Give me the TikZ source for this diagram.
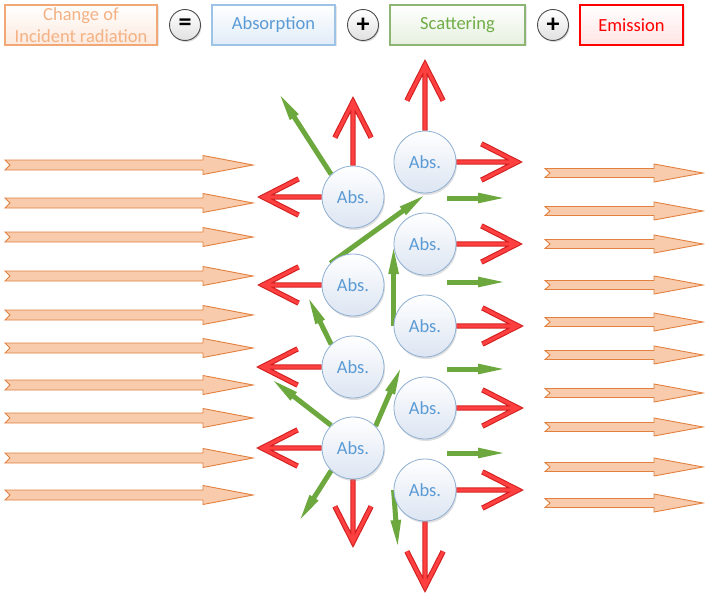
\documentclass[tikz,border=0pt]{standalone}
\usepackage{fontspec}
\setmainfont{Carlito}
\usetikzlibrary{arrows.meta,calc,shadows}
\definecolor{orfill}{HTML}{F8CBAD}
\definecolor{ordraw}{HTML}{E2803F}
\definecolor{absblue}{HTML}{5B9BD5}
\definecolor{circdraw}{HTML}{8EAFD2}
\definecolor{circbot}{HTML}{DCE5F2}
\definecolor{grn}{HTML}{6CA83E}
\definecolor{emred}{HTML}{FF4040}
\definecolor{emdark}{HTML}{D22020}
\definecolor{chgtext}{HTML}{F4B183}
\definecolor{chgdraw}{HTML}{F2A777}
\definecolor{chgfill}{HTML}{FCE9DD}
\definecolor{absdraw}{HTML}{9DC3E6}
\definecolor{absfill}{HTML}{E1ECF8}
\definecolor{scdraw}{HTML}{8DB573}
\definecolor{sctext}{HTML}{70AD47}
\definecolor{scfill}{HTML}{E6F0DF}
\definecolor{emfill}{HTML}{FFE3E3}
\pgfdeclarelayer{bottomlayer}
\pgfdeclarelayer{arrowlayer}
\pgfsetlayers{bottomlayer,arrowlayer,main}
\newcommand\emitarr[2]{%
  \draw[emitout] (#1) -- (#2) ($(#2)!40pt!27:(#1)$) -- (#2) -- ($(#2)!40pt!-27:(#1)$);
  \draw[emitin]  (#1) -- (#2) ($(#2)!40pt!27:(#1)$) -- (#2) -- ($(#2)!40pt!-27:(#1)$);}
\begin{document}
\begin{tikzpicture}[x=1pt,y=-1pt,
  orarrow/.style={draw=ordraw,fill=orfill,line width=0.9pt,line join=miter},
  absc/.style={circle,draw=circdraw,line width=0.8pt,minimum size=62pt,inner sep=0pt,
    top color=white,bottom color=circbot,text=absblue,font=\fontsize{18.5}{20}\selectfont,
    drop shadow={shadow xshift=1pt,shadow yshift=-2pt,opacity=0.25}},
  topbox/.style={rectangle,line width=1.1pt,minimum height=40pt,inner sep=0pt,align=center,
    font=\fontsize{18.5}{22}\selectfont,
    drop shadow={shadow xshift=1.5pt,shadow yshift=-1.5pt,opacity=0.2}},
  opc/.style={circle,draw=black!70,line width=0.9pt,minimum size=31pt,inner sep=0pt,
    top color=white,bottom color=black!12,font=\fontsize{26}{26}\selectfont\bfseries,
    drop shadow={shadow xshift=1pt,shadow yshift=-1.5pt,opacity=0.3}},
  emitout/.style={draw=emdark,line width=5.4pt,line join=miter,miter limit=10},
  emitin/.style={draw=emred,line width=3.2pt,line join=miter,miter limit=10},
  scat/.style={draw=grn,line width=5pt,-{Triangle[length=30pt,width=9pt]}}]
\useasboundingbox (0,0) rectangle (705,594);
% top equation
\node[topbox,draw=chgdraw,top color=white,bottom color=chgfill,text=chgtext,minimum width=152pt] (chg) at (81,25) {Change of\\Incident radiation};
\node[opc] (eq) at (185,25) {=};
\node[topbox,draw=absdraw,top color=white,bottom color=absfill,text=absblue,minimum width=123pt] (absb) at (273.5,25) {Absorption};
\node[opc] (p1) at (363,25) {+};
\node[topbox,draw=scdraw,top color=white,bottom color=scfill,text=sctext,minimum width=135pt] (scb) at (457.5,25) {Scattering};
\node[opc] (p2) at (553,25) {+};
\node[topbox,draw=red,top color=white,bottom color=emfill,text=red,minimum width=103pt] (emb) at (631.5,25) {Emission};
% absorbers
\node[absc] (L1) at (353,197) {Abs.};
\node[absc] (L2) at (353,285) {Abs.};
\node[absc] (L3) at (353,367) {Abs.};
\node[absc] (L4) at (353,448) {Abs.};
\node[absc] (R1) at (425,162) {Abs.};
\node[absc] (R2) at (425,244) {Abs.};
\node[absc] (R3) at (425,326) {Abs.};
\node[absc] (R4) at (425,408) {Abs.};
\node[absc] (R5) at (425,490) {Abs.};
% incident and transmitted arrows
\begin{pgfonlayer}{bottomlayer}
\foreach \y in {165,203,237,276,315,348,385,418,458,495}
  \draw[orarrow] (5,\y-5) -- (203,\y-5) -- (203,\y-9.5) -- (253,\y) -- (203,\y+9.5) -- (203,\y+5) -- (5,\y+5) -- (10,\y) -- cycle;
\foreach \y in {173,211,244,285,322,355,393,427,467,503}
  \draw[orarrow] (545,\y-4.5) -- (654,\y-4.5) -- (654,\y-9) -- (703,\y) -- (654,\y+9) -- (654,\y+4.5) -- (545,\y+4.5) -- (550,\y) -- cycle;
\end{pgfonlayer}
% free ends
\coordinate (eL1u) at (353,102);
\coordinate (eL1l) at (263,197);
\coordinate (eR1u) at (425,65);
\coordinate (eR1r) at (517,162);
\coordinate (eR2r) at (517,244);
\coordinate (eL2l) at (263,285);
\coordinate (eR3r) at (518,326);
\coordinate (eL3l) at (262,367);
\coordinate (eR4r) at (518,408);
\coordinate (eL4l) at (262,448);
\coordinate (eL4d) at (353,542);
\coordinate (eR5r) at (518,490);
\coordinate (eR5d) at (425,587);
\coordinate (gL1) at (278,92);
\coordinate (gL3) at (307,295);
\coordinate (gL4a) at (270,378);
\coordinate (gL4b) at (402,365);
\coordinate (gL4c) at (298,523);
\coordinate (gR5) at (398,550);
\foreach \y [count=\i] in {198,282,369,453}{
  \coordinate (hs\i) at (447,\y);
  \coordinate (he\i) at (508,\y);}
\begin{pgfonlayer}{arrowlayer}
% emission arrows
\emitarr{L1.north}{eL1u}
\emitarr{L1.west}{eL1l}
\emitarr{R1.north}{eR1u}
\emitarr{R1.east}{eR1r}
\emitarr{R2.east}{eR2r}
\emitarr{L2.west}{eL2l}
\emitarr{R3.east}{eR3r}
\emitarr{L3.west}{eL3l}
\emitarr{R4.east}{eR4r}
\emitarr{L4.west}{eL4l}
\emitarr{L4.south}{eL4d}
\emitarr{R5.east}{eR5r}
\emitarr{R5.south}{eR5d}
% scattering arrows
\draw[scat] (L1.134) -- (gL1);
\draw[scat] (L2.136) -- (R1.274);
\draw[scat] (R3.west) -- (R2.west);
\draw[scat] (L3.134) -- (gL3);
\draw[scat] (L4.134) -- (gL4a);
\draw[scat] (L4.44) -- (gL4b);
\draw[scat] (L4.226) -- (gL4c);
\draw[scat] (R5.west) -- (gR5);
\foreach \i in {1,...,4} \draw[scat] (hs\i) -- (he\i);
\end{pgfonlayer}
\end{tikzpicture}
\end{document}
